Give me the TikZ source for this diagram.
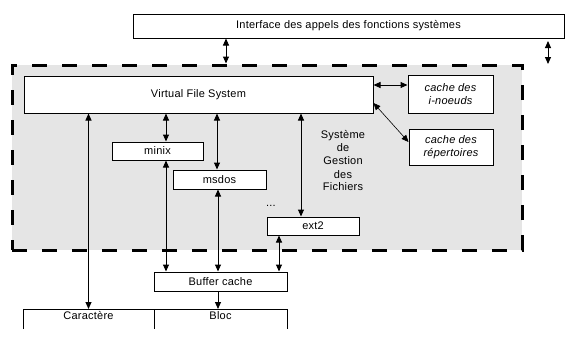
\documentclass[tikz,border=0pt]{standalone}
\usepackage{fontspec}
\setmainfont{Liberation Sans}[LetterSpace=2]
\usetikzlibrary{arrows.meta}

\begin{document}
\begin{tikzpicture}[x=1pt,y=-1pt,font=\fontsize{11}{13}\selectfont,
	boite/.style={draw,fill=white,line width=1pt,inner sep=0pt},
	italique/.style={align=center,font=\fontsize{11}{12.5}\selectfont\itshape},
	fleche/.style={line width=1pt,{Triangle[length=7pt,width=6pt]}-{Triangle[length=7pt,width=6pt]}}]
	\useasboundingbox[fill=white] (0,0) rectangle (569,348);
	\node[draw,fill=black!10,line width=3pt,dash pattern=on 15pt off 15pt,minimum width=510,minimum height=185] (sgf) at (267,157.5) {};
	\node[boite,minimum width=431,minimum height=24] (interface) at (348.5,26) {Interface des appels des fonctions systèmes};
	\node[boite,minimum width=349,minimum height=37] (vfs) at (198.5,94.5) {Virtual File System};
	\node[boite,italique,minimum width=85,minimum height=38] (inoeuds) at (450.5,94) {cache des\\i-noeuds};
	\node[boite,italique,minimum width=84,minimum height=36] (reps) at (451,147) {cache des\\répertoires};
	\node[boite,minimum width=91,minimum height=18] (minix) at (157.5,151) {minix};
	\node[boite,minimum width=93,minimum height=19] (msdos) at (219.5,179.5) {msdos};
	\node[boite,minimum width=92,minimum height=18] (ext2) at (313,226) {ext2};
	\node[boite,minimum width=133,minimum height=19] (buffer) at (220.5,281.5) {Buffer cache};
	\node[align=center] (sgftexte) at (343,161) {Système\\de\\Gestion\\des\\Fichiers};
	\node (etc) at (271,205.5) {...};
	\node[anchor=north,inner sep=2pt] (car) at (88.5,309) {Caractère};
	\node[anchor=north,inner sep=2pt] (bloc) at (220.5,309) {Bloc};
	\draw[line width=1pt] (23,329) -- (23,309) -- (287,309) -- (287,329) (154,309) -- (154,329);
	\coordinate (libreA) at (548,41);
	\coordinate (libreB) at (548,64);
	\draw[fleche] (interface.south -| 226,0) -- (sgf.north -| 226,0);
	\draw[fleche] (libreA) -- (libreB);
	\draw[fleche] (vfs.east |- 0,85) -- (inoeuds.west |- 0,85);
	\draw[fleche,line width=0.6pt] (vfs.east |- 0,103) -- (reps.west |- 0,142);
	\draw[fleche] (vfs.south -| car) -- (car.north);
	\draw[fleche] (vfs.south -| 166,0) -- (minix.north -| 166,0);
	\draw[fleche] (vfs.south -| 217,0) -- (msdos.north -| 217,0);
	\draw[fleche] (vfs.south -| 301,0) -- (ext2.north -| 301,0);
	\draw[fleche] (minix.south -| 166,0) -- (buffer.north -| 166,0);
	\draw[fleche] (msdos.south -| 218,0) -- (buffer.north -| 218,0);
	\draw[fleche] (ext2.south -| 279,0) -- (buffer.north -| 279,0);
	\draw[line width=1pt,-{Triangle[length=7pt,width=6pt]}] (buffer.south -| 218,0) -- (bloc.north -| 218,0);
\end{tikzpicture}
\end{document}
